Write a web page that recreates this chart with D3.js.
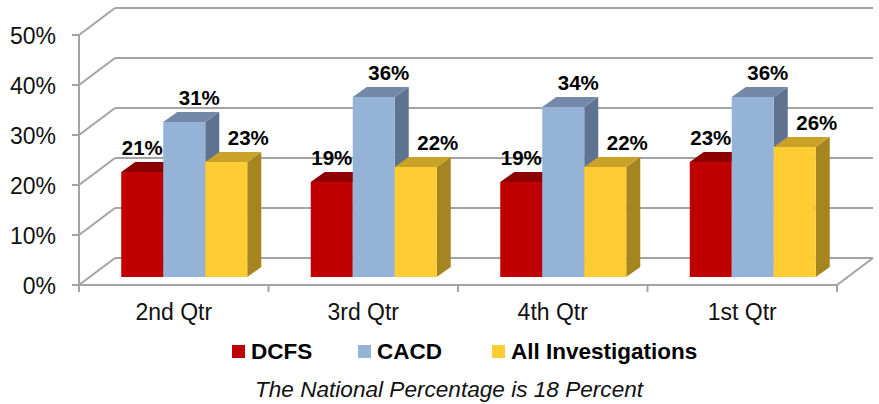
<!DOCTYPE html>
<html>
<head>
<meta charset="utf-8">
<script src="https://cdn.jsdelivr.net/npm/d3@7"></script>
<style>
  body { margin: 0; background: #fff; }
  svg text { font-family: Arial, "Liberation Sans", sans-serif; }
</style>
</head>
<body>
<svg width="879" height="404"></svg>
<script>
const categories = ["2nd Qtr", "3rd Qtr", "4th Qtr", "1st Qtr"];
const seriesNames = ["DCFS", "CACD", "All Investigations"];
const dcfsValues = [21, 19, 19, 23];
const cacdValues = [31, 36, 34, 36];
const allValues = [23, 22, 22, 26];
const yTicks = [0, 10, 20, 30, 40, 50];
const subtitle = "The National Percentage is 18 Percent";

const seriesValues = [dcfsValues, cacdValues, allValues];
const colors = [
  { front: "#C00000", top: "#8E0000", side: "#780000" },
  { front: "#95B3D7", top: "#7489A8", side: "#5F7391" },
  { front: "#FFCC33", top: "#C9A227", side: "#A4851F" }
];

// 3d geometry
const wallDx = 36, wallDy = -27;      // depth of the back wall
const barDx = 10.5, barDy = -8;       // where the bar front sits
const depthDx = 14, depthDy = -10;    // depth of each bar
const labelShift = [0, 15, 22];

const svg = d3.select("svg");
const gridColor = "#a3a3a3";

const y = d3.scaleLinear().domain([0, 50]).range([285, 35]);
const x0 = d3.scaleBand().domain(categories).range([79, 837]);
const x1 = d3.scaleBand().domain(seriesNames).range([31.75, x0.bandwidth() - 31.75]);

// back wall gridlines + side wall diagonals
const grid = svg.append("g")
  .style("stroke", gridColor)
  .style("stroke-width", "2px")
  .style("fill", "none");

grid.selectAll("line.back")
  .data(yTicks)
  .join("line")
  .attr("class", "back")
  .attr("x1", 79 + wallDx)
  .attr("x2", 837 + wallDx)
  .attr("y1", (d) => y(d) + wallDy)
  .attr("y2", (d) => y(d) + wallDy);

grid.selectAll("line.side")
  .data(yTicks)
  .join("line")
  .attr("class", "side")
  .attr("x1", 79)
  .attr("x2", 79 + wallDx)
  .attr("y1", (d) => y(d))
  .attr("y2", (d) => y(d) + wallDy);

// left ticks
grid.selectAll("line.ytick")
  .data(yTicks)
  .join("line")
  .attr("class", "ytick")
  .attr("x1", 72)
  .attr("x2", 79)
  .attr("y1", (d) => y(d))
  .attr("y2", (d) => y(d));

// floor front edge and right edge
grid.append("line")
  .attr("x1", 79).attr("x2", 837)
  .attr("y1", y(0)).attr("y2", y(0));
grid.append("line")
  .attr("x1", 837).attr("x2", 837 + wallDx)
  .attr("y1", y(0)).attr("y2", y(0) + wallDy);

// front vertical axis
grid.append("line")
  .attr("x1", 79).attr("x2", 79)
  .attr("y1", y(50)).attr("y2", y(0) + 7);

// category ticks
const boundaries = categories.map((c) => x0(c)).concat([837]);
grid.selectAll("line.xtick")
  .data(boundaries)
  .join("line")
  .attr("class", "xtick")
  .attr("x1", (d) => d)
  .attr("x2", (d) => d)
  .attr("y1", y(0))
  .attr("y2", y(0) + 7);

// y labels
svg.append("g")
  .selectAll("text")
  .data(yTicks)
  .join("text")
  .attr("x", 56)
  .attr("y", (d) => y(d) + 9)
  .attr("text-anchor", "end")
  .style("font-size", "23px")
  .style("fill", "#111")
  .text((d) => d + "%");

// category labels
svg.append("g")
  .selectAll("text")
  .data(categories)
  .join("text")
  .attr("x", (d) => x0(d) + x0.bandwidth() / 2)
  .attr("y", 320)
  .attr("text-anchor", "middle")
  .style("font-size", "23px")
  .style("fill", "#111")
  .text((d) => d);

// bars
const bars = [];
categories.forEach((c, ci) => {
  seriesNames.forEach((s, si) => {
    bars.push({ cat: c, series: s, si: si, value: seriesValues[si][ci] });
  });
});

const barG = svg.append("g");
bars.forEach((d) => {
  const left = x0(d.cat) + x1(d.series) + barDx;
  const w = x1.bandwidth();
  const top = y(d.value) + barDy;
  const bottom = y(0) + barDy;
  const col = colors[d.si];
  const g = barG.append("g");
  // right side
  g.append("path")
    .attr("d", `M${left + w},${top} L${left + w + depthDx},${top + depthDy} L${left + w + depthDx},${bottom + depthDy} L${left + w},${bottom} Z`)
    .style("fill", col.side);
  // top
  g.append("path")
    .attr("d", `M${left},${top} L${left + depthDx},${top + depthDy} L${left + w + depthDx},${top + depthDy} L${left + w},${top} Z`)
    .style("fill", col.top);
  // front
  g.append("rect")
    .attr("x", left)
    .attr("y", top)
    .attr("width", w)
    .attr("height", bottom - top)
    .style("fill", col.front);
});

// value labels
svg.append("g")
  .selectAll("text")
  .data(bars)
  .join("text")
  .attr("x", (d) => x0(d.cat) + x1(d.series) + barDx + x1.bandwidth() / 2 + labelShift[d.si])
  .attr("y", (d) => y(d.value) + barDy - 17)
  .attr("text-anchor", "middle")
  .style("font-size", "20.5px")
  .style("font-weight", "bold")
  .style("fill", "#000")
  .text((d) => d.value + "%");

// legend
const legendX = [232, 358, 492];
const legend = svg.append("g")
  .selectAll("g")
  .data(seriesNames)
  .join("g")
  .attr("transform", (d, i) => `translate(${legendX[i]},345)`);
legend.append("rect")
  .attr("width", 13)
  .attr("height", 13)
  .style("fill", (d, i) => colors[i].front);
legend.append("text")
  .attr("x", 19)
  .attr("y", 13.5)
  .style("font-size", "22.5px")
  .style("font-weight", "bold")
  .style("fill", "#000")
  .text((d) => d);

svg.append("text")
  .attr("x", 449)
  .attr("y", 397)
  .attr("text-anchor", "middle")
  .style("font-size", "22.6px")
  .style("font-style", "italic")
  .style("fill", "#111")
  .text(subtitle);
</script>
</body>
</html>
